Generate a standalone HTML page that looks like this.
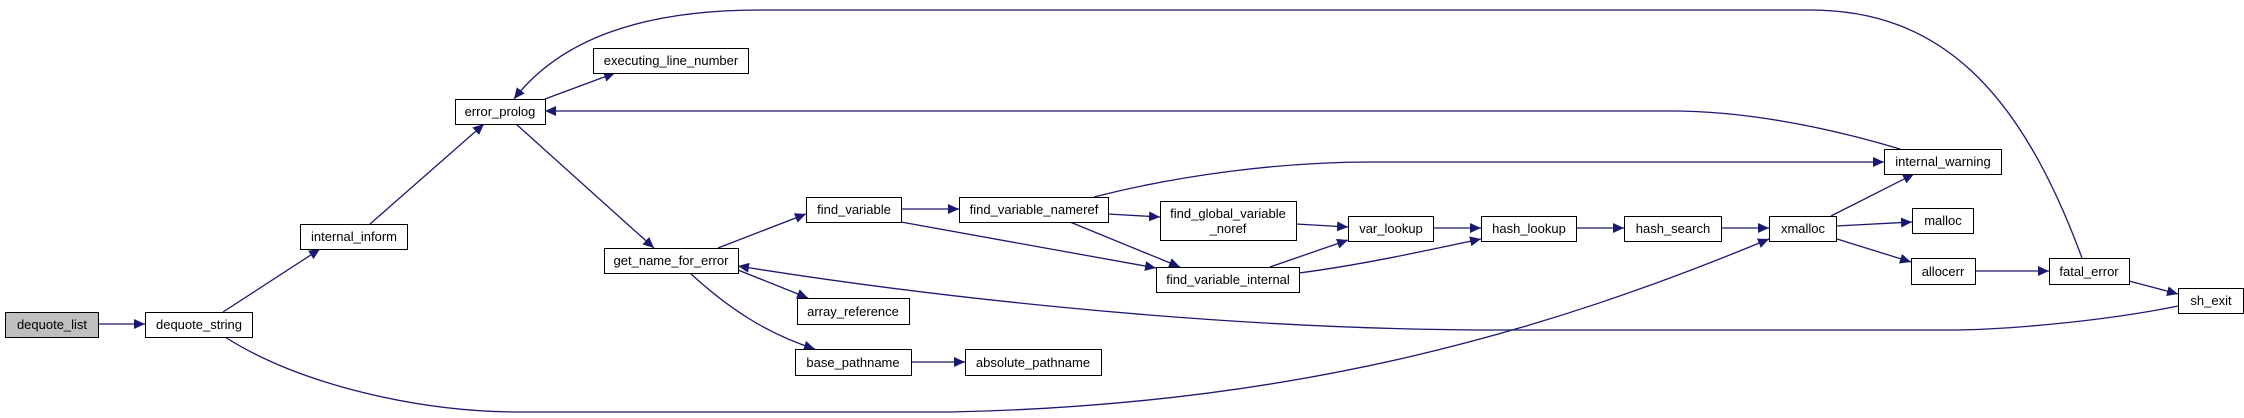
<!DOCTYPE html>
<html><head><meta charset="utf-8"><style>
html,body{margin:0;padding:0;background:#fff}
svg{display:block}
text{font-family:"Liberation Sans",sans-serif;font-size:13px;fill:#000}
</style></head><body>
<svg width="2244" height="418" viewBox="0 0 2244 418" xmlns="http://www.w3.org/2000/svg">
<defs><marker id="a" markerUnits="userSpaceOnUse" markerWidth="12" markerHeight="10" refX="11" refY="5" orient="auto"><path d="M0,0 L11,5 L0,10 Z" fill="#191970"/></marker></defs>
<g fill="none" stroke="#191970" stroke-width="1.3" marker-end="url(#a)">
<path d="M98,324 L145,324"/>
<path d="M223,312 L320,249"/>
<path d="M370,224 L484,124"/>
<path d="M545,99 L615,73"/>
<path d="M516,124 L654,248"/>
<path d="M718,248 L806,214"/>
<path d="M718,262 L808,298"/>
<path d="M690,273 C730,310 770,335 815,349"/>
<path d="M911,362 L965,362"/>
<path d="M901,209 L959,209"/>
<path d="M901,222 L1156,268"/>
<path d="M1108,214 L1160,217"/>
<path d="M1070,222 L1180,267"/>
<path d="M1094,197 C1180,175 1280,162 1372,162 L1884,162"/>
<path d="M1296,224 L1348,227"/>
<path d="M1270,267 L1348,240"/>
<path d="M1299,273 C1360,265 1420,252 1481,239"/>
<path d="M1433,228 L1481,228"/>
<path d="M1576,228 L1624,228"/>
<path d="M1721,228 L1769,228"/>
<path d="M1831,216 L1914,174"/>
<path d="M1836,226 L1912,222"/>
<path d="M1837,239 L1911,262"/>
<path d="M1975,271 L2049,271"/>
<path d="M2129,281 L2178,294"/>
<path d="M2082,258 C2020,90 1940,10 1810,10 L760,10 C640,10 560,40 514,99"/>
<path d="M1900,149 C1820,125 1740,111 1672,111 L545,111"/>
<path d="M2178,306 C2100,322 2000,330 1948,330 L1500,330 C1200,330 900,292 738,266"/>
<path d="M225,337 C300,385 420,412 520,412 L950,412 C1300,405 1550,330 1769,239"/>
</g>
<g stroke="#000" stroke-width="1">
<rect x="5.5" y="312.5" width="93" height="25" fill="#bfbfbf"/>
<rect x="145.5" y="312.5" width="107" height="25" fill="#fff"/>
<rect x="300.5" y="224.5" width="107" height="25" fill="#fff"/>
<rect x="455.5" y="99.5" width="90" height="25" fill="#fff"/>
<rect x="593.5" y="48.5" width="155" height="25" fill="#fff"/>
<rect x="604.5" y="248.5" width="134" height="25" fill="#fff"/>
<rect x="806.5" y="197.5" width="95" height="25" fill="#fff"/>
<rect x="797.5" y="298.5" width="112" height="26" fill="#fff"/>
<rect x="795.5" y="349.5" width="116" height="26" fill="#fff"/>
<rect x="965.5" y="349.5" width="136" height="26" fill="#fff"/>
<rect x="959.5" y="197.5" width="149" height="25" fill="#fff"/>
<rect x="1160.5" y="201.5" width="136" height="39" fill="#fff"/>
<rect x="1156.5" y="267.5" width="143" height="25" fill="#fff"/>
<rect x="1348.5" y="216.5" width="85" height="25" fill="#fff"/>
<rect x="1481.5" y="216.5" width="95" height="25" fill="#fff"/>
<rect x="1624.5" y="216.5" width="97" height="25" fill="#fff"/>
<rect x="1769.5" y="216.5" width="67" height="25" fill="#fff"/>
<rect x="1884.5" y="149.5" width="117" height="25" fill="#fff"/>
<rect x="1912.5" y="208.5" width="61" height="25" fill="#fff"/>
<rect x="1911.5" y="258.5" width="64" height="26" fill="#fff"/>
<rect x="2049.5" y="258.5" width="80" height="26" fill="#fff"/>
<rect x="2178.5" y="288.5" width="65" height="25" fill="#fff"/>
</g>
<g text-anchor="middle">
<text x="52" y="329">dequote_list</text>
<text x="199" y="329">dequote_string</text>
<text x="354" y="241">internal_inform</text>
<text x="500" y="116">error_prolog</text>
<text x="671" y="65">executing_line_number</text>
<text x="671" y="265">get_name_for_error</text>
<text x="854" y="214">find_variable</text>
<text x="853" y="316">array_reference</text>
<text x="853" y="367">base_pathname</text>
<text x="1033" y="367">absolute_pathname</text>
<text x="1034" y="214">find_variable_nameref</text>
<text x="1228" y="218">find_global_variable</text>
<text x="1228" y="233">_noref</text>
<text x="1228" y="284">find_variable_internal</text>
<text x="1391" y="233">var_lookup</text>
<text x="1529" y="233">hash_lookup</text>
<text x="1673" y="233">hash_search</text>
<text x="1803" y="233">xmalloc</text>
<text x="1943" y="166">internal_warning</text>
<text x="1943" y="225">malloc</text>
<text x="1943" y="276">allocerr</text>
<text x="2089" y="276">fatal_error</text>
<text x="2211" y="305">sh_exit</text>
</g>
</svg>
</body></html>
